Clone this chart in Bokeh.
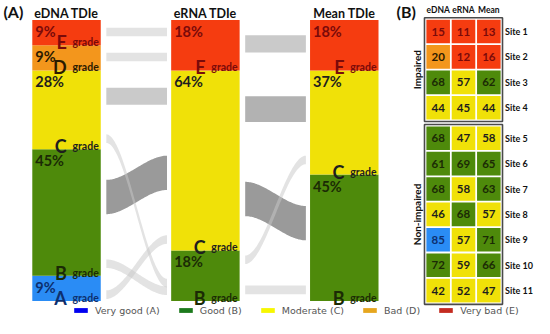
import numpy as np
from bokeh.plotting import figure
from bokeh.models import Range1d, ColumnDataSource, Legend, LegendItem
from bokeh.core.properties import value
from bokeh.embed import file_html
from bokeh.resources import INLINE

# ---------------- data ----------------
stages = ["eDNA TDIe", "eRNA TDIe", "Mean TDIe"]
grades = ["A", "B", "C", "D", "E"]
grade_names = ["Very good (A)", "Good (B)", "Moderate (C)", "Bad (D)", "Very bad (E)"]
# share of sites (%) in each grade, panel A (grades A..E)
edna_share = [9, 45, 28, 9, 9]
erna_share = [0, 18, 64, 0, 18]
mean_share = [0, 45, 37, 0, 18]

# panel B: TDIe per site
methods = ["eDNA", "eRNA", "Mean"]
sites = ["Site 1", "Site 2", "Site 3", "Site 4", "Site 5", "Site 6",
         "Site 7", "Site 8", "Site 9", "Site 10", "Site 11"]
site_group = ["Impaired"] * 4 + ["Non-impaired"] * 7
edna_vals = [15, 20, 68, 44, 68, 61, 68, 46, 85, 72, 42]
erna_vals = [11, 12, 57, 45, 47, 69, 58, 68, 57, 59, 52]
mean_vals = [13, 16, 62, 44, 58, 65, 63, 57, 71, 66, 47]

# flows between neighbouring stages (grade -> grade); top of band at source
# and at target, in % of the bar
flow_stage = [0, 0, 0, 0, 0, 0, 0, 1, 1, 1, 1, 1]
flow_from = ["E", "D", "C", "B", "C", "B", "A", "E", "C", "C", "B", "B"]
flow_to = ["E", "E", "C", "C", "B", "B", "C", "E", "C", "B", "C", "B"]
flow_src_top = [97.2, 88.3, 75.9, 43.1, 59.3, 14.8, 3.8, 94.5, 72.8, 42.4, 16.2, 5.5]
flow_dst_top = [97.2, 88.3, 75.9, 51.7, 7.9, 5.2, 23.4, 94.5, 72.8, 33.8, 51.7, 5.5]

# ---------------- style ----------------
grade_fill = {"A": "#2a8cf5", "B": "#4e8a0b", "C": "#f0e108", "D": "#f3961c", "E": "#f53c10"}
grade_text = {"A": "#0d2f6e", "B": "#1b2a05", "C": "#1e1e1e", "D": "#2b1a00", "E": "#7a0a0a"}
legend_fill = ["#0000f0", "#1c7a1c", "#f7f700", "#e6a61e", "#c42b20"]
FONT = value("Lato")


def grade_of(v):
    if v >= 80:
        return "A"
    if v >= 60:
        return "B"
    if v >= 40:
        return "C"
    if v >= 20:
        return "D"
    return "E"


W, H = 534, 318
p = figure(width=W, height=H,
           x_range=Range1d(-0.4754, 3.3697), y_range=Range1d(-6.207, 106.897),
           x_axis_location=None, y_axis_location=None,
           output_backend="svg", toolbar_location=None, min_border=0)
p.grid.visible = False
p.outline_line_color = None
p.background_fill_color = "white"

p.extra_x_ranges = {"hx": Range1d(-17.278, 3.803), "rx": Range1d(2, 548)}
p.extra_y_ranges = {"hy": Range1d(11.298, -1.221), "ry": Range1d(331, 3)}

bar_w = 0.493
hw = bar_w / 2

# ---------------- flows ----------------
vals_by_stage = [edna_vals, erna_vals, mean_vals]
site_per_pct = 3.05  # band thickness per site (in % units)
flows = []
for s, g0, g1, t0, t1 in zip(flow_stage, flow_from, flow_to, flow_src_top, flow_dst_top):
    a, b = vals_by_stage[s], vals_by_stage[s + 1]
    n = sum(1 for u, v in zip(a, b) if grade_of(u) == g0 and grade_of(v) == g1)
    flows.append((n, s, t0, t1))
flows.sort(key=lambda f: -f[0])
fxs, fys, fcol, falpha = [], [], [], []
for n, s, t0, t1 in flows:
    x0 = s + hw + 0.04
    x1 = s + 1 - hw - 0.03
    u = np.linspace(0, 1, 60)
    sm = 3 * u ** 2 - 2 * u ** 3
    xx = x0 + (x1 - x0) * u
    top = t0 + (t1 - t0) * sm
    thick = n * site_per_pct
    bot = top - thick
    fxs.append(list(xx) + list(xx[::-1]))
    fys.append(list(top) + list(bot[::-1]))
    if n == 1:
        fcol.append("#c8c8c8")
        falpha.append(0.5)
    else:
        g = 250 - 24 * n
        fcol.append("#%02x%02x%02x" % (g, g, g))
        falpha.append(1.0)
p.patches(xs=fxs, ys=fys, fill_color=fcol, fill_alpha=falpha, line_color=None)

# ---------------- stacked bars ----------------
shares = [edna_share, erna_share, mean_share]
bx, bb, bt, bc, pct_txt, pct_col, gl = [], [], [], [], [], [], []
for i, sh in enumerate(shares):
    cum = 0
    for g, v in zip(grades, sh):
        if v == 0:
            continue
        bx.append(i)
        bb.append(cum)
        bt.append(cum + v)
        bc.append(grade_fill[g])
        pct_txt.append(f"{v}%")
        pct_col.append(grade_text[g])
        gl.append(g)
        cum += v
bars = ColumnDataSource(dict(x=bx, bottom=bb, top=bt, color=bc, pct=pct_txt,
                             tcol=pct_col, g=gl,
                             xl=[x - hw for x in bx], xr=[x + hw for x in bx],
                             word=["grade"] * len(bx)))
p.vbar(x="x", bottom="bottom", top="top", width=bar_w, fill_color="color",
       line_color=None, source=bars)
p.text(x="xl", y="top", text="pct", text_color="tcol", x_offset=3, y_offset=3,
       text_baseline="top", text_align="left", text_font=FONT,
       text_font_style="bold", text_font_size="14.5px", source=bars)
p.text(x="xr", y="bottom", text="g", text_color="tcol", x_offset=-34, y_offset=-3,
       text_baseline="alphabetic", text_align="right", text_font=FONT,
       text_font_style="bold", text_font_size="18px", source=bars)
p.text(x="xr", y="bottom", text="word", text_color="tcol", x_offset=-2, y_offset=-3,
       text_baseline="alphabetic", text_align="right", text_font=FONT,
       text_font_style="bold", text_font_size="10.5px", source=bars)

# stage titles
p.text(x=list(range(len(stages))), y=[106.897] * 3, text=stages, y_offset=13,
       text_align="center", text_baseline="middle", text_font=FONT,
       text_font_style="bold", text_font_size="12.5px", text_color="#111111")

# ---------------- heatmap (panel B) ----------------
rowpos = [i + (0.2 if grp == "Non-impaired" else 0.0) for i, grp in enumerate(site_group)]
hx, hy, hc, ht, htc = [], [], [], [], []
for j, vals in enumerate([edna_vals, erna_vals, mean_vals]):
    for r, v in zip(rowpos, vals):
        g = grade_of(v)
        hx.append(j)
        hy.append(r)
        hc.append(grade_fill[g])
        ht.append(str(v))
        htc.append(grade_text[g])
hsrc = ColumnDataSource(dict(x=hx, y=hy, c=hc, t=ht, tc=htc))
p.rect(x="x", y="y", width=0.93, height=0.93, fill_color="c", line_color=None,
       source=hsrc, x_range_name="hx", y_range_name="hy")
p.text(x="x", y="y", text="t", text_color="tc", text_align="center",
       text_baseline="middle", text_font=FONT, text_font_style="bold",
       text_font_size="11.5px", source=hsrc, x_range_name="hx", y_range_name="hy")

# group frames
for grp in ["Impaired", "Non-impaired"]:
    rs = [r for r, gg in zip(rowpos, site_group) if gg == grp]
    lo, hi = min(rs), max(rs)
    p.rect(x=[(len(methods) - 1) / 2], y=[(lo + hi) / 2], width=len(methods) + 0.08,
           height=hi - lo + 1.08, fill_color=None, line_color="#4a4a4a",
           line_width=1.6, x_range_name="hx", y_range_name="hy")
    p.text(x=[-0.85], y=[(lo + hi) / 2], text=[grp], angle=np.pi / 2,
           text_align="center", text_baseline="middle", text_font=FONT,
           text_font_style="bold", text_font_size="10px", text_color="#111111",
           x_range_name="hx", y_range_name="hy")

p.text(x=list(range(len(methods))), y=[-0.84] * 3, text=methods,
       text_align="center", text_baseline="middle", text_font=FONT,
       text_font_style="bold", text_font_size="8.5px", text_color="#111111",
       x_range_name="hx", y_range_name="hy")
p.text(x=[len(methods) - 1 + 0.64] * len(sites), y=rowpos, text=sites,
       text_align="left", text_baseline="middle", text_font=FONT,
       text_font_style="bold", text_font_size="9px", text_color="#111111",
       x_range_name="hx", y_range_name="hy")

# panel letters
p.text(x=[5, 407], y=[14, 14], text=["(A)", "(B)"], text_align="left",
       text_baseline="middle", text_font=FONT, text_font_style="bold",
       text_font_size="16px", text_color="#111111",
       x_range_name="rx", y_range_name="ry")

# ---------------- legend ----------------
items = []
for name, col in zip(grade_names, legend_fill):
    r = p.rect(x=[-50], y=[-50], width=1, height=1, fill_color=col, line_color=None)
    items.append(LegendItem(label=name, renderers=[r]))
legend = Legend(items=items, orientation="horizontal", location=(72, 2),
                border_line_color=None, background_fill_alpha=0, padding=0,
                margin=0, spacing=17, label_standoff=6, glyph_width=17,
                glyph_height=6, label_height=12, label_text_font="DejaVu Sans",
                label_text_font_size="9.5px", label_text_color="#555555",
                label_text_baseline="middle")
p.add_layout(legend)

open("out.html", "w").write(file_html(p, INLINE))
